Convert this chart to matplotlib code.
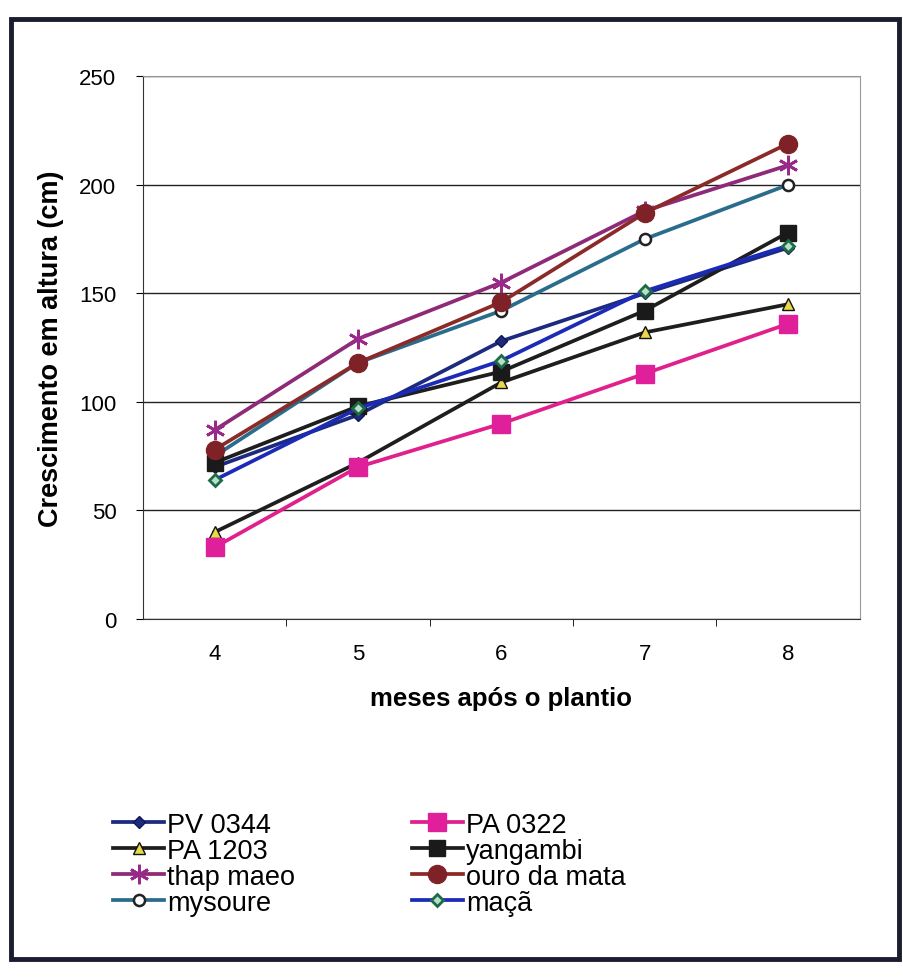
"""Plant height growth chart (months after planting)"""

import matplotlib.pyplot as plt
from matplotlib.patches import Rectangle

plt.rcParams['font.family'] = ['Liberation Sans', 'DejaVu Sans']

months = [4, 5, 6, 7, 8]

pv_0344 = [70, 94, 128, 150, 171]
pa_1203 = [40, 72, 109, 132, 145]
thap_maeo = [87, 129, 155, 188, 209]
mysoure = [75, 118, 142, 175, 200]
pa_0322 = [33, 70, 90, 113, 136]
yangambi = [72, 98, 114, 142, 178]
ouro_da_mata = [78, 118, 146, 187, 219]
maca = [64, 97, 119, 151, 172]

y_ticks = [0, 50, 100, 150, 200, 250]


def make_plot(filename):
    """
    Draw the eight cultivar curves and save them.

    Parameters
    ----------

    filename : str
        Name of the output image
    """

    fig = plt.figure(figsize=(9.04, 9.78), dpi=100)
    ax = fig.add_axes([0.158, 0.366, 0.793, 0.555])

    asterisk = (6, 2, 0)
    series = [
        (pv_0344, "PV 0344", dict(color='#1c2a80', marker='D', ms=6,
                                  mfc='#1c2a80', mec='#101850')),
        (pa_1203, "PA 1203", dict(color='#1e1e1e', marker='^', ms=8,
                                  mfc='#e8d84a', mec='#111111')),
        (thap_maeo, "thap maeo", dict(color='#8e2a78', marker=asterisk,
                                      ms=14, mec='#9a2a8a', mew=2)),
        (mysoure, "mysoure", dict(color='#2a6c8c', marker='o', ms=8,
                                  mfc='white', mec='#222222', mew=1.8)),
        (pa_0322, "PA 0322", dict(color='#e0208c', marker='s', ms=13,
                                  mfc='#e0209a', mec='#e0209a')),
        (yangambi, "yangambi", dict(color='#1e1e1e', marker='s', ms=12,
                                    mfc='#1a1a1a', mec='#1a1a1a')),
        (ouro_da_mata, "ouro da mata", dict(color='#8c2a2a', marker='o',
                                            ms=13, mfc='#7e2228',
                                            mec='#7e2228')),
        (maca, "maçã", dict(color='#1c2ab8', marker='D', ms=6,
                            mfc='#b8e0c8', mec='#1e6a48', mew=2)),
    ]

    handles = []
    for values, label, style in series:
        line, = ax.plot(months, values, lw=2.7, label=label, zorder=3,
                        **style)
        handles.append(line)

    ax.set_xlim(3.5, 8.5)
    ax.set_ylim(0, 250)
    ax.set_yticks(y_ticks)
    ax.set_xticks(months)
    ax.set_xticks([4.5, 5.5, 6.5, 7.5], minor=True)
    ax.tick_params(axis='x', which='major', length=0, pad=17, labelsize=16)
    ax.tick_params(axis='x', which='minor', length=5, direction='out')
    ax.tick_params(axis='y', length=5, direction='out', labelsize=16,
                   pad=14)
    ax.yaxis.grid(True, color='#222222', lw=1.0)
    ax.set_axisbelow(True)

    for side in ('top', 'right'):
        ax.spines[side].set_color('#999999')
        ax.spines[side].set_linestyle((0, (1, 1)))
    ax.spines['left'].set_color('#333333')
    ax.spines['bottom'].set_color('#333333')

    ax.set_ylabel('Crescimento em altura (cm)', fontsize=19.5,
                  fontweight='bold', labelpad=11)
    ax.set_xlabel('meses após o plantio', fontsize=18.5,
                  fontweight='bold', labelpad=16)

    fig.legend(handles=handles, ncol=2, loc='upper left',
               bbox_to_anchor=(0.098, 0.194), frameon=False,
               fontsize=19.5, handlelength=1.9, handletextpad=0.1,
               labelspacing=0.0, columnspacing=4.3)

    fig.patches.append(Rectangle((0.012, 0.018), 0.983, 0.962,
                                 transform=fig.transFigure, fill=False,
                                 lw=3.5, ec='#1c1c30'))

    fig.savefig(filename, dpi=100)


if __name__ == '__main__':
    make_plot("out.png")
